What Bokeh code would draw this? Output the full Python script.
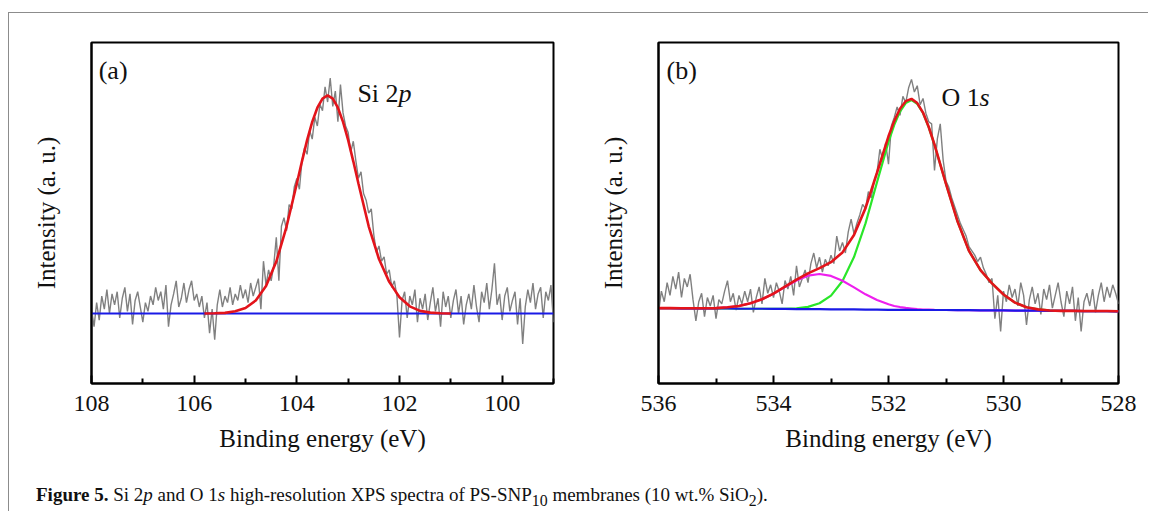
import numpy as np
from bokeh.plotting import figure
from bokeh.models import Range1d, FixedTicker, Label, Div
from bokeh.layouts import column, row
from bokeh.embed import file_html
from bokeh.resources import INLINE

# ---------------- Panel (a): Si 2p ----------------
si_energy = np.round(np.linspace(108.0, 99.0, 181), 2)
si_counts = [
    0.02, -0.06, 0.05, -0.03, 0.08, 0.02, 0.11, 0.00, 0.09, 0.04,
    0.10, -0.02, 0.07, 0.12, 0.01, 0.09, -0.05, 0.06, 0.10, 0.03,
    -0.04, 0.05, 0.01, 0.08, 0.04, 0.12, 0.06, 0.10, 0.02, 0.13,
    -0.06, 0.04, 0.09, 0.15, 0.03, 0.07, 0.14, 0.05, 0.11, 0.15,
    0.06, 0.09, 0.03, 0.08, -0.02, 0.05, -0.09, 0.02, -0.12, 0.04,
    0.11, 0.03, 0.08, 0.05, 0.12, 0.04, 0.09, 0.06, 0.13, 0.07,
    0.11, 0.05, 0.14, 0.08, 0.12, 0.16, 0.02, 0.24, 0.13, 0.20,
    0.15, 0.22, 0.35, 0.15, 0.40, 0.44, 0.38, 0.50, 0.48, 0.58,
    0.62, 0.57, 0.70, 0.76, 0.73, 0.84, 0.80, 0.90, 0.86, 0.96,
    0.93, 1.04, 0.97, 1.08, 0.95, 1.02, 0.88, 1.05, 0.92, 0.86,
    0.83, 0.74, 0.79, 0.70, 0.62, 0.65, 0.55, 0.52, 0.46, 0.48,
    0.36, 0.28, 0.31, 0.24, 0.26, 0.18, 0.20, 0.12, 0.15, 0.08,
    -0.11, 0.06, 0.10, -0.02, 0.08, 0.04, 0.11, -0.04, 0.07, 0.02,
    0.09, -0.03, 0.05, 0.12, 0.01, 0.07, -0.06, 0.10, 0.03, 0.08,
    -0.02, 0.06, 0.11, 0.00, 0.08, -0.05, 0.04, 0.09, 0.02, 0.13,
    0.03, -0.04, 0.10, 0.05, 0.14, 0.02, 0.11, 0.23, 0.04, 0.09,
    -0.03, 0.08, 0.12, 0.01, 0.06, 0.10, -0.05, 0.07, -0.14, 0.03,
    0.11, 0.05, 0.14, 0.02, 0.09, 0.12, -0.02, 0.10, 0.06, 0.13,
    -0.04,
]
si_fit_energy = [105.8, 105.6, 105.4, 105.2, 105.0, 104.8, 104.6, 104.4, 104.2, 104.0,
                 103.9, 103.8, 103.7, 103.6, 103.5, 103.4, 103.3, 103.2, 103.1, 103.0,
                 102.9, 102.8, 102.6, 102.4, 102.2, 102.0, 101.8, 101.6, 101.4, 101.2, 101.0]
si_fit = [0.000, 0.001, 0.003, 0.010, 0.025, 0.060, 0.126, 0.238, 0.399, 0.596,
          0.698, 0.795, 0.879, 0.944, 0.986, 1.000, 0.986, 0.944, 0.879, 0.795,
          0.698, 0.596, 0.400, 0.250, 0.145, 0.075, 0.033, 0.012, 0.004, 0.001, 0.000]
si_bg_energy = [108.0, 99.0]
si_bg = [0.0, 0.0]
si_ticks = [108, 106, 104, 102, 100]
si_minor = [107, 105, 103, 101, 99]

# ---------------- Panel (b): O 1s ----------------
o_energy = np.round(np.linspace(536.0, 528.0, 161), 2)
o_counts = [
    -0.02, 0.08, 0.03, 0.12, 0.06, 0.15, 0.09, 0.17, 0.05, 0.14,
    0.10, 0.16, 0.04, -0.06, 0.03, 0.07, -0.04, 0.05, 0.01, 0.06,
    -0.05, 0.04, 0.02, 0.08, 0.13, 0.03, 0.07, -0.01, 0.06, 0.02,
    0.08, 0.03, 0.09, -0.02, 0.05, 0.10, 0.02, 0.14, 0.07, 0.11,
    0.05, 0.12, 0.08, 0.02, 0.13, 0.09, 0.15, 0.06, 0.20, 0.10,
    0.14, 0.18, 0.12, 0.21, 0.26, 0.19, 0.24, 0.17, 0.23, 0.20,
    0.25, 0.21, 0.34, 0.27, 0.31, 0.26, 0.36, 0.42, 0.35, 0.40,
    0.44, 0.49, 0.47, 0.55, 0.52, 0.60, 0.64, 0.75, 0.70, 0.78,
    0.68, 0.86, 0.90, 0.95, 0.91, 1.00, 0.97, 1.04, 1.08, 1.02,
    1.05, 0.96, 0.99, 0.92, 0.88, 0.87, 0.65, 0.80, 0.87, 0.70,
    0.60, 0.57, 0.52, 0.48, 0.44, 0.40, 0.37, 0.34, 0.29, 0.27,
    0.25, 0.22, 0.24, 0.19, 0.16, 0.12, 0.14, -0.05, 0.06, -0.11,
    0.08, 0.03, 0.11, 0.05, 0.09, 0.01, 0.12, 0.06, -0.08, 0.04,
    0.10, 0.02, 0.07, -0.03, 0.09, 0.04, 0.11, 0.00, 0.06, 0.12,
    0.03, -0.04, 0.08, 0.02, 0.10, -0.06, 0.05, -0.11, 0.03, 0.07,
    0.01, 0.09, -0.02, 0.06, 0.12, 0.03, 0.10, 0.05, 0.11, 0.07,
    0.02,
]
o_fit_energy = [536.0, 535.8, 535.6, 535.4, 535.2, 535.0, 534.8, 534.6, 534.4, 534.2, 534.0,
                533.8, 533.6, 533.4, 533.2, 533.0, 532.8, 532.6, 532.4, 532.2, 532.0,
                531.9, 531.8, 531.7, 531.6, 531.5, 531.4, 531.3, 531.2,
                531.0, 530.8, 530.6, 530.4, 530.2, 530.0,
                529.8, 529.6, 529.4, 529.2, 529.0, 528.8, 528.6, 528.4, 528.2, 528.0]
o_bg = [0.000, 0.000, -0.001, -0.001, -0.002, -0.002, -0.002, -0.003, -0.003, -0.003, -0.004,
        -0.004, -0.005, -0.005, -0.005, -0.006, -0.006, -0.006, -0.007, -0.007, -0.008,
        -0.008, -0.008, -0.008, -0.008, -0.009, -0.009, -0.009, -0.009,
        -0.009, -0.010, -0.010, -0.011, -0.011, -0.011,
        -0.012, -0.012, -0.012, -0.013, -0.013, -0.013, -0.014, -0.014, -0.014, -0.015]
o_main = [0, 0, 0, 0, 0, 0, 0, 0, 0, 0, 0,
          0.001, 0.004, 0.011, 0.028, 0.065, 0.134, 0.247, 0.407, 0.601, 0.793,
          0.873, 0.936, 0.976, 0.990, 0.973, 0.930, 0.862, 0.780,
          0.595, 0.420, 0.280, 0.190, 0.128, 0.075,
          0.038, 0.016, 0.006, 0.002, 0, 0, 0, 0, 0, 0]
o_minor = [0, 0, 0, 0, 0.001, 0.002, 0.006, 0.013, 0.026, 0.045, 0.072,
           0.104, 0.135, 0.158, 0.166, 0.158, 0.135, 0.104, 0.072, 0.045, 0.026,
           0.018, 0.013, 0.009, 0.006, 0.004, 0.002, 0.002, 0.001,
           0, 0, 0, 0, 0, 0,
           0, 0, 0, 0, 0, 0, 0, 0, 0, 0]
o_ticks = [536, 534, 532, 530, 528]
o_minor_ticks = [535, 533, 531, 529]

SERIF = "Liberation Serif"
GRAY = "#808080"
RED = "#e3141b"
BLUE = "#1a1ae6"
GREEN = "#2ae62a"
MAGENTA = "#ee1fee"


def make_panel(xr, yr, ticks, minor, width, left, right):
    p = figure(width=width, height=457, x_range=Range1d(*xr), y_range=Range1d(*yr),
               output_backend="svg", toolbar_location=None,
               min_border_left=left, min_border_right=right,
               min_border_top=29, min_border_bottom=87)
    p.xgrid.visible = False
    p.ygrid.visible = False
    p.background_fill_color = "white"
    p.border_fill_color = "white"
    p.outline_line_color = "black"
    p.outline_line_width = 2
    p.outline_line_alpha = 1

    xa = p.xaxis[0]
    xa.ticker = FixedTicker(ticks=ticks, minor_ticks=minor)
    xa.axis_line_width = 2
    xa.axis_line_color = "black"
    xa.major_tick_in = 8
    xa.major_tick_out = 0
    xa.minor_tick_in = 5
    xa.minor_tick_out = 0
    xa.major_tick_line_width = 2
    xa.minor_tick_line_width = 2
    xa.major_label_text_font = SERIF
    xa.major_label_text_font_size = "24px"
    xa.major_label_text_color = "#111111"
    xa.major_label_standoff = 12
    xa.axis_label = "Binding energy (eV)"
    xa.axis_label_text_font = SERIF
    xa.axis_label_text_font_size = "25px"
    xa.axis_label_text_font_style = "normal"
    xa.axis_label_text_color = "#111111"
    xa.axis_label_standoff = 11

    ya = p.yaxis[0]
    ya.ticker = FixedTicker(ticks=[])
    ya.axis_line_width = 2
    ya.axis_line_color = "black"
    ya.major_tick_in = 0
    ya.major_tick_out = 0
    ya.minor_tick_in = 0
    ya.minor_tick_out = 0
    ya.axis_label = "Intensity (a. u.)"
    ya.axis_label_text_font = SERIF
    ya.axis_label_text_font_size = "25px"
    ya.axis_label_text_font_style = "normal"
    ya.axis_label_text_color = "#111111"
    ya.axis_label_standoff = 32
    return p


def add_text(p, x, y, txt, italic_part, offset):
    p.add_layout(Label(x=x, y=y, text=txt, text_font=SERIF, text_font_size="26px",
                       text_baseline="alphabetic", text_align="left", text_color="#111111"))
    if italic_part:
        p.add_layout(Label(x=x, y=y, x_offset=offset, text=italic_part, text_font=SERIF,
                           text_font_size="26px", text_font_style="italic",
                           text_baseline="alphabetic", text_align="left", text_color="#111111"))


# Panel (a)
pa = make_panel((108, 99), (-0.321, 1.243), si_ticks, si_minor, 570, 82, 26)
pa.line(si_energy, si_counts, line_color=GRAY, line_width=1.4)
pa.line(si_bg_energy, si_bg, line_color=BLUE, line_width=2.2)
pa.line(si_fit_energy, si_fit, line_color=RED, line_width=2.6)
add_text(pa, 107.86, 1.115, "(a)", None, 0)
add_text(pa, 102.82, 1.009, "Si 2", "p", 41)

# Panel (b)
o_bg_arr = np.array(o_bg)
o_main_line = o_bg_arr + np.array(o_main)
o_minor_line = o_bg_arr + np.array(o_minor)
o_fit_line = o_bg_arr + np.array(o_main) + np.array(o_minor)

pb = make_panel((536, 528), (-0.356, 1.254), o_ticks, o_minor_ticks, 569, 79, 30)
pb.line(o_energy, o_counts, line_color=GRAY, line_width=1.4)
pb.line(o_fit_energy, o_main_line, line_color=GREEN, line_width=2.2)
pb.line(o_fit_energy, o_minor_line, line_color=MAGENTA, line_width=2.2)
pb.line(o_fit_energy, o_bg, line_color=BLUE, line_width=2.2)
pb.line(o_fit_energy, o_fit_line, line_color=RED, line_width=2.6)
add_text(pb, 535.86, 1.122, "(b)", None, 0)
add_text(pb, 531.08, 0.995, "O 1", "s", 38)

caption = Div(
    text=("<b>Figure 5.</b> Si 2<i>p</i> and O 1<i>s</i> high-resolution XPS spectra of "
          "PS-SNP<sub>10</sub> membranes (10 wt.% SiO<sub>2</sub>)."),
    width=1100, height=30, margin=(11, 0, 0, 27),
    styles={"font-family": SERIF, "font-size": "19px", "color": "#111111",
            "white-space": "nowrap"})

layout = column(row(pa, pb), caption, margin=(12, 0, 0, 8),
                styles={"border-top": "1px solid #8c8c8c", "border-left": "1px solid #8c8c8c"})

open("out.html", "w").write(file_html(layout, INLINE))
